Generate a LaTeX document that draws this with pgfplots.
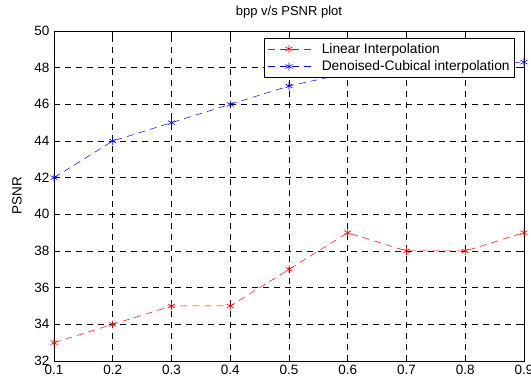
\documentclass[border=0pt]{standalone}
\usepackage{pgfplots}
\pgfplotsset{compat=1.18}
\usepackage{fontspec}
\setmainfont{Liberation Sans}
\begin{document}
\begin{tikzpicture}[x=1pt,y=1pt]
\begin{axis}[
  scale only axis,
  width=470pt, height=330pt,
  at={(0pt,0pt)}, anchor=south west,
  xmin=0.1, xmax=0.9, ymin=32, ymax=50,
  xtick={0.1,0.2,...,0.9},
  ytick={32,34,...,50},
  xticklabels={0.1,0.2,0.3,0.4,0.5,0.6,0.7,0.8,0.9},
  yticklabels={32,34,36,38,40,42,44,46,48,50},
  tick align=inside,
  major tick length=5pt,
  tick style={black, line width=0.5pt},
  grid=major,
  major grid style={black, dash pattern=on 6pt off 5pt, line width=0.5pt},
  axis line style={black, line width=0.7pt},
  ticklabel style={font=\fontsize{13.5}{15}\selectfont},
  xticklabel style={yshift=-1pt},
  yticklabel style={xshift=-1pt},
  every axis title/.style={at={(0.5,1)}, anchor=south, yshift=9pt, font=\fontsize{13}{15}\selectfont},
  title={bpp v/s PSNR plot},
  ylabel={PSNR},
  ylabel style={font=\fontsize{13.5}{15}\selectfont, at={(axis description cs:-0.079,0.5)}, anchor=center},
  legend style={at={(0.981,0.979)}, anchor=north east, draw=black, line width=0.7pt,
     font=\fontsize{13.8}{15}\selectfont, inner xsep=3pt, inner ysep=3pt, row sep=2pt,
     column sep=9pt, fill=white},
  legend cell align=left,
  legend image code/.code={
    \draw[mark repeat=2,mark phase=2,#1] plot coordinates {(-6pt,0pt) (15.5pt,0pt) (37pt,0pt)};
  },
]
\addplot[red, dash pattern=on 7pt off 5pt, line width=0.5pt, mark=asterisk, mark size=4pt, mark options={solid, line width=0.6pt}]
  coordinates {(0.1,33) (0.2,34) (0.3,35) (0.4,35) (0.5,37) (0.6,39) (0.7,38) (0.8,38) (0.9,39)};
\addlegendentry{Linear Interpolation}
\addplot[blue, dash pattern=on 7pt off 5pt, line width=0.5pt, mark=asterisk, mark size=4pt, mark options={solid, line width=0.6pt}]
  coordinates {(0.1,42) (0.2,44) (0.3,45) (0.4,46) (0.5,47) (0.6,47.7) (0.7,48.0) (0.8,48.25) (0.9,48.3)};
\addlegendentry{Denoised-Cubical interpolation}
\end{axis}
\pgfresetboundingbox
\path (-54pt,-17pt) rectangle (477pt,361pt);
\end{tikzpicture}
\end{document}
